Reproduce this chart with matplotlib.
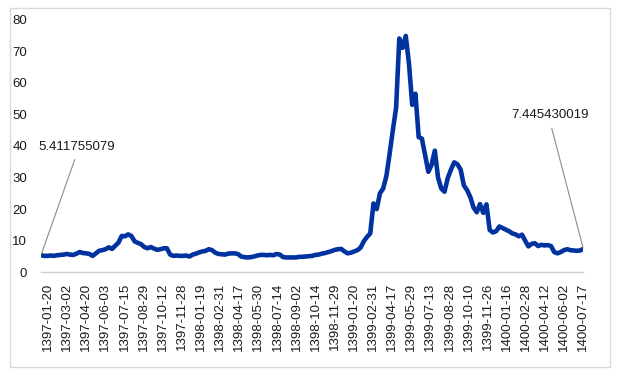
import matplotlib
matplotlib.use("Agg")
import matplotlib.pyplot as plt
import numpy as np
from matplotlib.patches import Rectangle

plt.rcParams['font.family'] = ['Liberation Sans', 'DejaVu Sans']

# Tick labels (Jalali dates), one every few samples
tick_labels = [
    "1397-01-20", "1397-03-02", "1397-04-20", "1397-06-03", "1397-07-15",
    "1397-08-29", "1397-10-12", "1397-11-28", "1398-01-19", "1398-02-31",
    "1398-04-17", "1398-05-30", "1398-07-14", "1398-09-02", "1398-10-14",
    "1398-11-29", "1399-01-20", "1399-02-31", "1399-04-17", "1399-05-29",
    "1399-07-13", "1399-08-28", "1399-10-10", "1399-11-26", "1400-01-16",
    "1400-02-28", "1400-04-12", "1400-06-02", "1400-07-17",
]

values = [
    5.41, 5.2, 5.2, 5.3, 5.2, 5.4, 5.5, 5.6, 5.8, 5.6,
    5.5, 5.9, 6.4, 6.1, 6.0, 5.8, 5.2, 6.0, 6.8, 7.0,
    7.3, 7.9, 7.4, 8.4, 9.4, 11.5, 11.4, 12.0, 11.5, 9.8,
    9.3, 8.9, 8.0, 7.6, 8.0, 7.5, 7.1, 7.3, 7.6, 7.6,
    5.6, 5.2, 5.3, 5.2, 5.2, 5.3, 5.0, 5.6, 5.9, 6.3,
    6.6, 6.8, 7.3, 7.0, 6.2, 5.8, 5.7, 5.6, 5.9, 6.0,
    6.0, 5.8, 5.0, 4.8, 4.7, 4.8, 5.0, 5.3, 5.5, 5.5,
    5.4, 5.5, 5.4, 5.8, 5.6, 4.8, 4.7, 4.7, 4.7, 4.7,
    4.9, 4.9, 5.0, 5.1, 5.2, 5.5, 5.6, 5.9, 6.1, 6.4,
    6.7, 7.1, 7.3, 7.4, 6.6, 6.0, 6.2, 6.6, 7.0, 7.8,
    9.8, 11.2, 12.3, 21.8, 20.0, 25.0, 26.5, 30.5, 37.5, 45.0,
    52.0, 74.0, 71.0, 74.8, 66.0, 53.0, 56.5, 42.8, 42.3, 37.0,
    31.8, 34.0, 38.5, 30.0, 26.5, 25.5, 29.8, 32.5, 34.8, 34.2,
    32.5, 27.5, 26.0, 23.8, 20.5, 19.0, 21.6, 18.8, 21.5, 13.4,
    12.6, 13.0, 14.5, 14.0, 13.5, 13.0, 12.3, 12.0, 11.4, 11.9,
    10.0, 8.2, 9.0, 9.2, 8.3, 8.7, 8.5, 8.6, 8.3, 6.4,
    6.0, 6.4, 7.0, 7.3, 7.0, 6.9, 6.8, 6.9, 7.445430019,
]

first_label = "5.411755079"
last_label = "7.445430019"

yticks = [0, 10, 20, 30, 40, 50, 60, 70, 80]

W, H = 621, 380
fig = plt.figure(figsize=(W / 100, H / 100), dpi=100)

# outer chart border
fig.patches.append(Rectangle((10 / W, 1 - 367 / H), 600 / W, 359 / H,
                             transform=fig.transFigure, fill=False,
                             edgecolor='#D9D9D9', lw=1.0))

ax = fig.add_axes([41 / W, 1 - 272.3 / H, (583.3 - 41) / W, (272.3 - 19.5) / H])

x = np.arange(len(values))
ax.plot(x, values, color='#0033A0', lw=3.3, solid_joinstyle='round',
        solid_capstyle='round')

ax.set_xlim(0, len(values) - 1)
ax.set_ylim(0, 80)

ax.set_yticks(yticks)
ax.set_yticklabels([str(v) for v in yticks])
ax.tick_params(axis='y', length=0, pad=10, labelsize=9.5, labelcolor='#1a1a1a')

tick_pos = np.linspace(2.2, len(values) - 1, len(tick_labels))
ax.set_xticks(tick_pos)
ax.set_xticklabels(tick_labels, rotation=90)
ax.tick_params(axis='x', length=0, pad=7.5, labelsize=9.5, labelcolor='#1a1a1a')

for s in ['left', 'right', 'top']:
    ax.spines[s].set_visible(False)
ax.spines['bottom'].set_color('#D0D0D0')
ax.spines['bottom'].set_linewidth(1.0)

ax.annotate(first_label, xy=(x[0], values[0]), xytext=(26, 78),
            textcoords='offset points', ha='center', va='center',
            fontsize=9.5, color='#1a1a1a',
            arrowprops=dict(arrowstyle='-', color='#8c8c8c', lw=0.8,
                            shrinkA=3, shrinkB=1, relpos=(0.5, 0)))
ax.annotate(last_label, xy=(x[-1], values[-1]), xytext=(-24, 96),
            textcoords='offset points', ha='center', va='center',
            fontsize=9.5, color='#1a1a1a',
            arrowprops=dict(arrowstyle='-', color='#8c8c8c', lw=0.8,
                            shrinkA=3, shrinkB=1, relpos=(0.5, 0)))

fig.savefig("out.png", dpi=100)
